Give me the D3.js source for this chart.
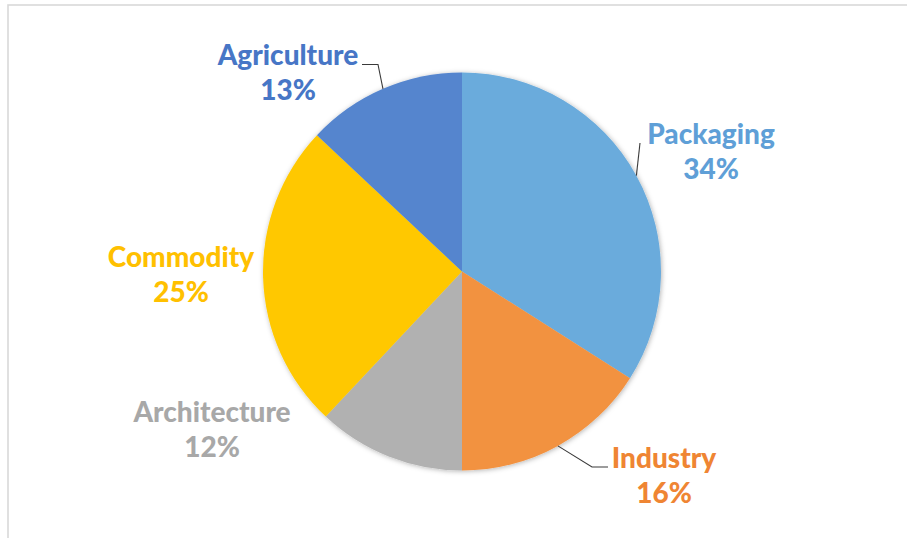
<!DOCTYPE html>
<html>
<head>
<meta charset="utf-8">
<script src="https://cdn.jsdelivr.net/npm/d3@7"></script>
<style>
  html, body { margin: 0; padding: 0; background: #fff; }
  svg { display: block; }
  .lbl { font-family: Lato, "Open Sans", sans-serif; font-weight: 900; }
</style>
</head>
<body>
<svg id="chart" width="907" height="538"></svg>
<script>
// Market share by application
const categories = ["Packaging", "Industry", "Architecture", "Commodity", "Agriculture"];
const shares = [34, 16, 12, 25, 13];
const sliceColors = ["#6aabdc", "#f29241", "#b1b1b1", "#ffc800", "#5585ce"];
const textColors = ["#5f9fd7", "#ef8533", "#a8a8a8", "#ffc000", "#4776c6"];

const W = 907, H = 538;
const cx = 462, cy = 271.5, R = 199;

const svg = d3.select("#chart");

// chart area frame
svg.append("rect")
  .attr("x", 8).attr("y", 5)
  .attr("width", W + 20).attr("height", H + 20)
  .attr("fill", "#fff")
  .attr("stroke", "#d9d9d9")
  .attr("stroke-width", 1.6);

const defs = svg.append("defs");
const f = defs.append("filter").attr("id", "soft")
  .attr("x", "-10%").attr("y", "-10%").attr("width", "120%").attr("height", "120%");
f.append("feDropShadow")
  .attr("dx", 0.8).attr("dy", 0.8)
  .attr("stdDeviation", 2.5)
  .attr("flood-color", "#000")
  .attr("flood-opacity", 0.3);

const data = categories.map((c, i) => ({ name: c, value: shares[i], color: sliceColors[i], text: textColors[i] }));

const pie = d3.pie().value(d => d.value).sort(null);
const arcs = pie(data);
const arc = d3.arc().innerRadius(0).outerRadius(R);

const g = svg.append("g").attr("transform", `translate(${cx},${cy})`);
g.append("g").attr("filter", "url(#soft)")
  .selectAll("path")
  .data(arcs)
  .join("path")
  .attr("d", arc)
  .attr("fill", d => d.data.color);

// point on the rim at the middle of a slice
function rimMid(a) {
  const ang = (a.startAngle + a.endAngle) / 2;
  return [cx + R * Math.sin(ang), cy - R * Math.cos(ang)];
}

// label placement (centre x, first baseline) and leader elbows
const layout = {
  Packaging:    { x: 711, y: 144, leader: [[640, 143]] },
  Industry:     { x: 664, y: 468, leader: [[608, 467], [592, 467]] },
  Architecture: { x: 212, y: 422 },
  Commodity:    { x: 181, y: 267 },
  Agriculture:  { x: 288, y: 65,  leader: [[362, 64.5], [378, 64.5]] }
};

const line = d3.line();
arcs.forEach(a => {
  const L = layout[a.data.name];
  if (L.leader) {
    svg.append("path")
      .attr("d", line(L.leader.concat([rimMid(a)])))
      .attr("fill", "none")
      .attr("stroke", "#3a3a3a")
      .attr("stroke-width", 1.1);
  }
  const t = svg.append("text")
    .attr("class", "lbl")
    .attr("text-anchor", "middle")
    .attr("fill", a.data.text)
    .attr("font-size", 28)
    .attr("x", L.x).attr("y", L.y);
  t.append("tspan").attr("x", L.x).text(a.data.name);
  t.append("tspan").attr("x", L.x).attr("dy", 35).text(a.data.value + "%");
});
</script>
</body>
</html>
